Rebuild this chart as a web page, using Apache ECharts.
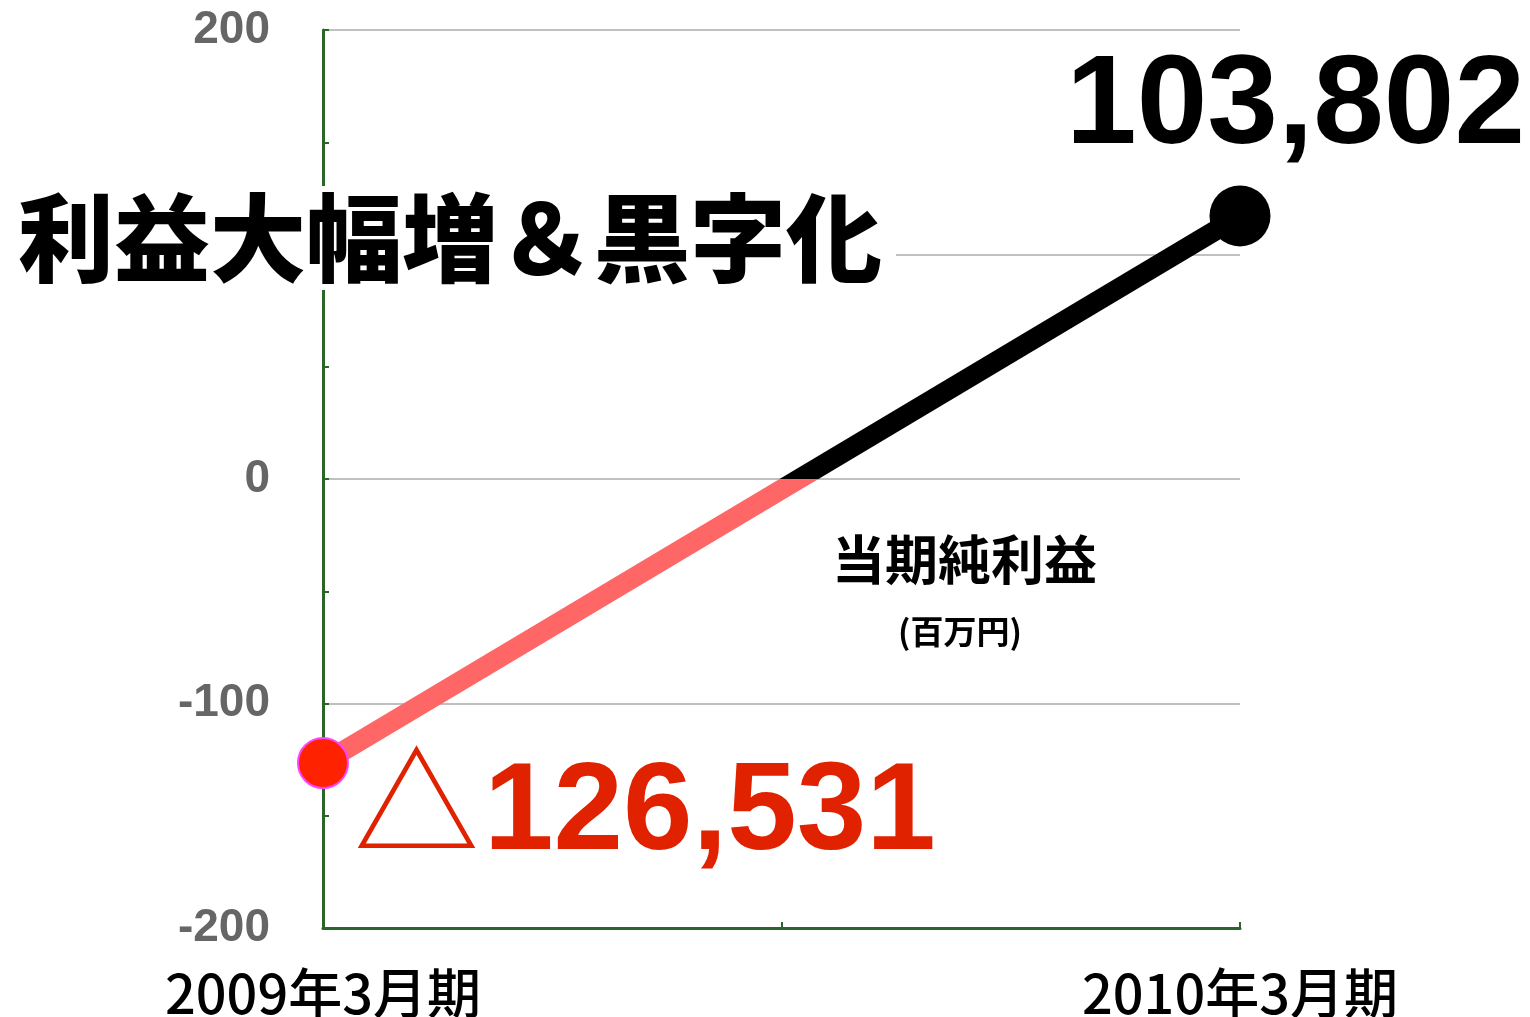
<!DOCTYPE html>
<html>
<head>
<meta charset="utf-8">
<script src="https://cdn.jsdelivr.net/npm/echarts@6/dist/echarts.min.js"></script>
<style>
  html, body { margin: 0; padding: 0; background: #fff; }
  #chart { width: 1530px; height: 1017px; }
</style>
</head>
<body>
<div id="chart"></div>
<script>
// 期間と当期純利益（軸上の位置は図から読み取り）
const periods = ['2009年3月期', '2010年3月期'];
const periodPos = [0, 1];
const netIncome = [-126.5, 117.2];
const valueLabels = ['126,531', '103,802'];
const yTicks = [-200, -100, 0, 100, 200];

const chart = echarts.init(document.getElementById('chart'));

const axisGreen = '#2a662a';

// 0を境に赤→黒へ切り替える（線の上下範囲に対する0の位置）
const yMax = Math.max(...netIncome);
const yMin = Math.min(...netIncome);
const zeroAt = (yMax - 0) / (yMax - yMin);
const lineColor = new echarts.graphic.LinearGradient(0, 0, 0, 1, [
  { offset: 0, color: '#000000' },
  { offset: zeroAt, color: '#000000' },
  { offset: zeroAt, color: '#ff6666' },
  { offset: 1, color: '#ff6666' }
]);

chart.setOption({
  animation: false,
  grid: { left: 323, right: 290, top: 30, bottom: 89, outerBoundsMode: 'none' },
  xAxis: {
    type: 'value',
    min: 0,
    max: 1,
    interval: 0.5,
    axisLine: { onZero: false, lineStyle: { color: axisGreen, width: 3 } },
    axisTick: { inside: true, length: 6, lineStyle: { color: axisGreen, width: 2 } },
    splitLine: { show: false },
    axisLabel: {
      margin: 38,
      fontFamily: 'Noto Sans CJK JP',
      fontWeight: 500,
      fontSize: 54,
      color: '#000',
      formatter: v => {
        const i = periodPos.indexOf(v);
        return i >= 0 ? periods[i] : '';
      }
    }
  },
  yAxis: {
    type: 'value',
    min: yTicks[0],
    max: yTicks[yTicks.length - 1],
    interval: 100,
    axisLine: { show: true, lineStyle: { color: axisGreen, width: 3 } },
    axisTick: { show: true, inside: true, length: 6, lineStyle: { color: axisGreen, width: 2 } },
    minorTick: { show: true, splitNumber: 2, length: 6, lineStyle: { color: axisGreen, width: 2 } },
    splitLine: { lineStyle: { color: '#c0c0c0', width: 2 } },
    axisLabel: {
      margin: 53,
      fontFamily: 'Liberation Sans',
      fontWeight: 'bold',
      fontSize: 46,
      color: '#666'
    }
  },
  series: [
    {
      type: 'line',
      data: periodPos.map((x, i) => [x, netIncome[i]]),
      symbol: 'none',
      lineStyle: { width: 20, color: lineColor },
      z: 2
    },
    {
      type: 'scatter',
      z: 3,
      data: [
        {
          value: [periodPos[0], netIncome[0]],
          symbolSize: 50,
          itemStyle: { color: '#ff2200', borderColor: '#ff44ff', borderWidth: 2, opacity: 1 }
        },
        {
          value: [periodPos[1], netIncome[1]],
          symbolSize: 61,
          itemStyle: { color: '#000', opacity: 1 }
        }
      ]
    }
  ],
  graphic: [
    {
      type: 'text',
      z: 100,
      left: 12,
      top: 186,
      style: {
        text: '利益大幅増＆黒字化',
        font: '900 96px "Noto Sans CJK JP"',
        fill: '#000',
        backgroundColor: '#fff',
        padding: [4, 14, 4, 6]
      }
    },
    {
      type: 'text',
      z: 100,
      left: 1066,
      top: 44,
      style: {
        text: valueLabels[1],
        font: 'bold 127px "Liberation Sans"',
        fill: '#000'
      }
    },
    {
      type: 'text',
      z: 100,
      left: 354,
      top: 739,
      style: {
        text: '△',
        font: '125px "Noto Sans CJK JP"',
        fill: '#e02200'
      }
    },
    {
      type: 'text',
      z: 100,
      left: 484,
      top: 752,
      style: {
        text: valueLabels[0],
        font: 'bold 125px "Liberation Sans"',
        fill: '#e02200'
      }
    },
    {
      type: 'text',
      z: 100,
      left: 832,
      top: 533,
      style: {
        text: '当期純利益',
        font: 'bold 53px "Noto Sans CJK JP"',
        fill: '#000'
      }
    },
    {
      type: 'text',
      z: 100,
      left: 898,
      top: 615,
      style: {
        text: '(百万円)',
        font: 'bold 33px "Noto Sans CJK JP"',
        fill: '#000'
      }
    }
  ]
});
</script>
</body>
</html>
